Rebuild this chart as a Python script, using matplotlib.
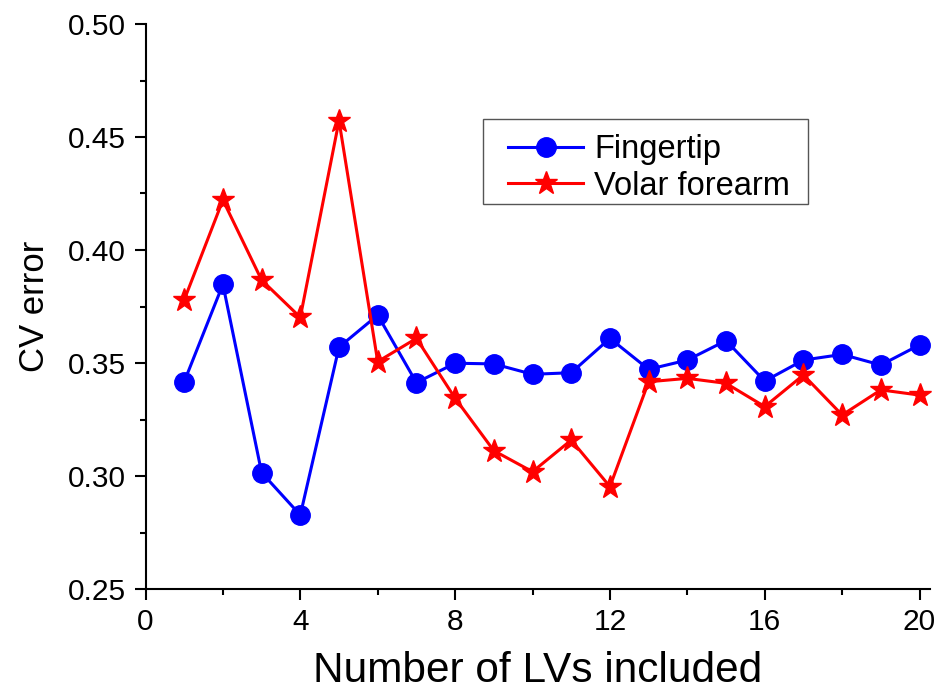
import matplotlib
matplotlib.use("Agg")
import matplotlib.pyplot as plt
from matplotlib.ticker import MultipleLocator
from matplotlib.patches import Rectangle

plt.rcParams['font.family'] = ['Liberation Sans', 'DejaVu Sans']

lvs = list(range(1, 21))
fingertip = [0.3417, 0.3848, 0.3015, 0.2827, 0.3570, 0.3712, 0.3413, 0.3499, 0.3496, 0.3450,
             0.3457, 0.3609, 0.3472, 0.3513, 0.3599, 0.3420, 0.3513, 0.3538, 0.3491, 0.3580]
volar = [0.3779, 0.4221, 0.3867, 0.3702, 0.4572, 0.3506, 0.3609, 0.3344, 0.3112, 0.3019,
         0.3159, 0.2953, 0.3417, 0.3432, 0.3410, 0.3307, 0.3447, 0.3270, 0.3381, 0.3358]

W, H = 940, 694
fig = plt.figure(figsize=(9.4, 6.94), dpi=100)
ax = fig.add_axes([145.5/W, 1-589/H, (930-145.5)/W, (589-24)/H])

ax.plot(lvs, fingertip, color='#0000ff', marker='o', markersize=14, lw=2.2,
        label='Fingertip', clip_on=False)
ax.plot(lvs, volar, color='#ff0000', marker='*', markersize=17, lw=2.2,
        label='Volar forearm', clip_on=False)

ax.set_xlim(0, 20.27)
ax.set_ylim(0.25, 0.50)
ax.xaxis.set_major_locator(MultipleLocator(4))
ax.xaxis.set_minor_locator(MultipleLocator(2))
ax.yaxis.set_major_locator(MultipleLocator(0.05))
ax.yaxis.set_minor_locator(MultipleLocator(0.025))
ax.yaxis.set_major_formatter(plt.FuncFormatter(lambda v, p: f"{v:.2f}"))

for s in ['top', 'right']:
    ax.spines[s].set_visible(False)
for s in ['left', 'bottom']:
    ax.spines[s].set_linewidth(1.5)

ax.tick_params(axis='both', which='major', direction='out', length=8, width=1.5,
               labelsize=21.5, pad=6)
ax.tick_params(axis='both', which='minor', direction='out', length=4, width=1.5)

ax.set_xlabel('Number of LVs included', fontsize=30.5, labelpad=10.5)
ax.set_ylabel('CV error', fontsize=25, labelpad=12)

leg = ax.legend(loc='upper left', bbox_to_anchor=(508/W, 1-134/H),
                bbox_transform=fig.transFigure,
                fontsize=23.5, frameon=False,
                handlelength=2.3, handletextpad=0.35, borderpad=0, labelspacing=0.17,
                borderaxespad=0)
fig.patches.append(Rectangle((483/W, 1-204/H), 325/W, 85/H, transform=fig.transFigure,
                             fill=False, edgecolor='#555555', lw=1.0, figure=fig))

fig.savefig('out.png', dpi=100)
